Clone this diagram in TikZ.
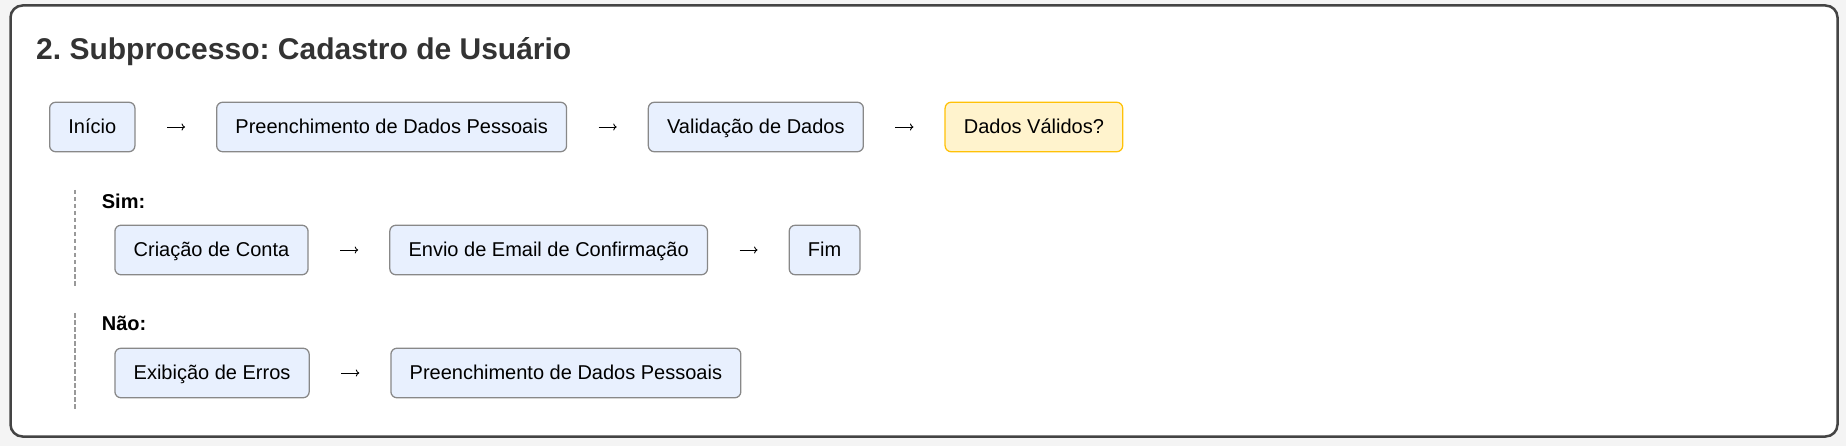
\documentclass[tikz,border=0pt]{standalone}
\usepackage{fontspec}
\setmainfont{Liberation Sans}
\usepackage{xcolor}
\usetikzlibrary{arrows.meta,positioning}
\frenchspacing
\definecolor{pagebg}{HTML}{F4F4F4}
\definecolor{framecol}{HTML}{444444}
\definecolor{titlecol}{HTML}{333333}
\definecolor{boxfill}{HTML}{E8F0FE}
\definecolor{boxline}{HTML}{888888}
\definecolor{decfill}{HTML}{FFF3CD}
\definecolor{decline}{HTML}{FFC107}
\definecolor{dashcol}{HTML}{999999}
\tikzset{%
	stepbox/.style  = {draw=boxline, fill=boxfill, rectangle, rounded corners=6pt, line width=1.25pt, minimum height=49.5pt, inner xsep=18.75pt, inner ysep=0pt, text height=18.4pt, text depth=4.6pt, font=\fontsize{20}{23}\selectfont},
	decision/.style = {stepbox, draw=decline, fill=decfill},
	branch/.style   = {anchor=base west, inner sep=0pt, font=\fontsize{20}{23}\selectfont\bfseries},
	branchline/.style = {draw=dashcol, line width=2.5pt, dash pattern=on 4.5pt off 2.5pt},
	arrow/.style    = {line width=0.9pt, -{To[length=3.5pt,width=7pt]}, shorten <=31.5pt, shorten >=31pt},
}
\begin{document}
\begin{tikzpicture}[x=1pt,y=-1pt,node distance=80.5pt]
	
	\fill[pagebg] (0,0) rectangle (1846,446);  % background
	\draw[framecol, fill=white, line width=2.5pt, rounded corners=12pt] (10.5,5.5) rectangle (1837.5,436.5);  % card
	
	\node[anchor=base west, inner sep=0pt, text=titlecol, font=\fontsize{30}{34}\selectfont\bfseries] (titulo) at (36,60) {2. Subprocesso: Cadastro de Usuário};
	
	% main flow
	\node[stepbox, anchor=west] (inicio) at (49,127) {Início};
	\node[stepbox, right=of inicio] (preench) {Preenchimento de Dados Pessoais};
	\node[stepbox, right=of preench] (valid) {Validação de Dados};
	\node[decision, right=of valid] (decisao) {Dados Válidos?};
	
	\draw[arrow] (inicio) -- (preench);
	\draw[arrow] (preench) -- (valid);
	\draw[arrow] (valid) -- (decisao);
	
	% Sim branch
	\draw[branchline] (75,190) -- (75,288);
	\node[branch] (sim) at (101.7,208.3) {Sim:};
	\node[stepbox, anchor=west] (criacao) at (114.3,250) {Criação de Conta};
	\node[stepbox, right=of criacao] (email) {Envio de Email de Confirmação};
	\node[stepbox, right=of email] (fim) {Fim};
	
	\draw[arrow] (criacao) -- (email);
	\draw[arrow] (email) -- (fim);
	
	% Nao branch
	\draw[branchline] (75,313) -- (75,410);
	\node[branch] (nao) at (101.7,330) {Não:};
	\node[stepbox, anchor=west] (erros) at (114.3,373) {Exibição de Erros};
	\node[stepbox, right=of erros] (preenchb) {Preenchimento de Dados Pessoais};
	
	\draw[arrow] (erros) -- (preenchb);
	
\end{tikzpicture}
\end{document}
